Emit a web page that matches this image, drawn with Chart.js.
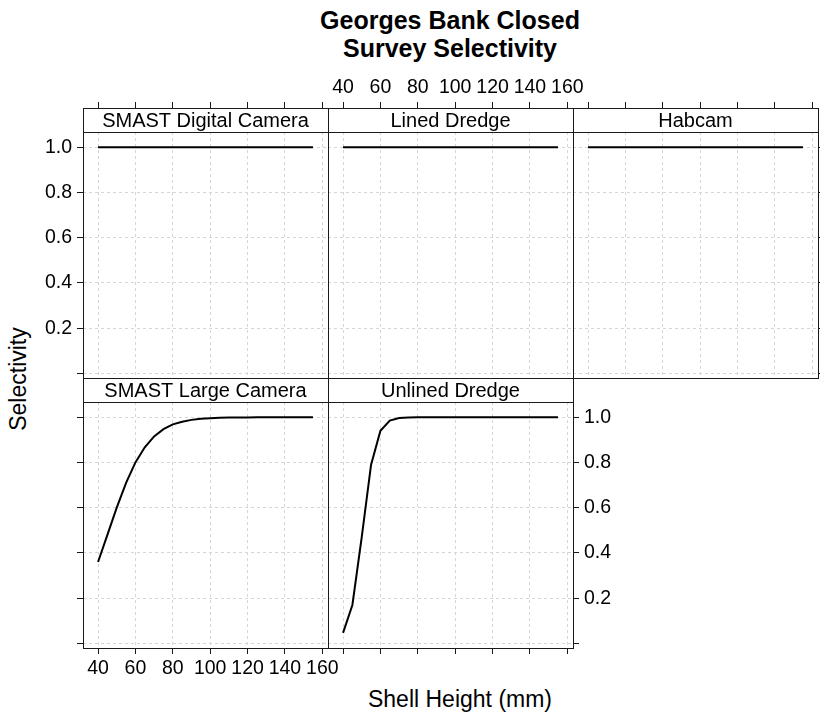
<!DOCTYPE html>
<html>
<head>
<meta charset="utf-8">
<script src="https://cdn.jsdelivr.net/npm/chart.js@4.4.1/dist/chart.umd.min.js"></script>
<style>
  body { margin: 0; background: #fff; }
  #page { position: relative; width: 820px; height: 717px; overflow: hidden; font-family: 'Liberation Sans', Arial, sans-serif; color: #000; }
  #page canvas { position: absolute; }
  .main-title { position: absolute; left: 0; width: 900px; top: 6px; text-align: center; font-weight: bold; font-size: 25px; line-height: 28px; }
  .xlab { position: absolute; left: 100px; width: 720px; top: 686px; text-align: center; font-size: 23px; }
  .ylab { position: absolute; left: 18px; top: 379px; font-size: 23px; transform: translate(-50%, -50%) rotate(-90deg); white-space: nowrap; }
</style>
</head>
<body>
<div id="page">
  <div class="main-title">Georges Bank Closed<br>Survey Selectivity</div>
  <div class="ylab">Selectivity</div>
  <div class="xlab">Shell Height (mm)</div>
</div>
<script>
// shell heights (mm) where selectivity was evaluated
const shellHeight = [40, 45, 50, 55, 60, 65, 70, 75, 80, 85, 90, 95, 100, 105, 110, 115, 120, 125, 130, 135, 140, 145, 150, 155];

const smastDigitalCamera = [1, 1, 1, 1, 1, 1, 1, 1, 1, 1, 1, 1, 1, 1, 1, 1, 1, 1, 1, 1, 1, 1, 1, 1];
const linedDredge        = [1, 1, 1, 1, 1, 1, 1, 1, 1, 1, 1, 1, 1, 1, 1, 1, 1, 1, 1, 1, 1, 1, 1, 1];
const habcam             = [1, 1, 1, 1, 1, 1, 1, 1, 1, 1, 1, 1, 1, 1, 1, 1, 1, 1, 1, 1, 1, 1, 1, 1];
const smastLargeCamera   = [0.36, 0.48, 0.60, 0.71, 0.80, 0.867, 0.915, 0.947, 0.968, 0.98, 0.988, 0.993, 0.995, 0.997, 0.998, 0.999, 0.999, 1, 1, 1, 1, 1, 1, 1];
const unlinedDredge      = [0.047, 0.17, 0.47, 0.79, 0.94, 0.985, 0.996, 0.999, 1, 1, 1, 1, 1, 1, 1, 1, 1, 1, 1, 1, 1, 1, 1, 1];

const panelNames = ['SMAST Digital Camera', 'Lined Dredge', 'Habcam', 'SMAST Large Camera', 'Unlined Dredge'];
const panelSeries = [smastDigitalCamera, linedDredge, habcam, smastLargeCamera, unlinedDredge];

const xTicks = [40, 60, 80, 100, 120, 140, 160];
const yTicks = [0, 0.2, 0.4, 0.6, 0.8, 1.0];
const xRange = [31.95, 163.05];
const yRange = [-0.02, 1.067];

// lattice layout: which sides of each panel get ticks / labels
const panelAxes = [
  { col: 0, row: 0, left: 'labels', right: null, top: 'ticks', bottom: null },
  { col: 1, row: 0, left: null, right: null, top: 'labels', bottom: null },
  { col: 2, row: 0, left: null, right: 'ticks', top: 'ticks', bottom: null },
  { col: 0, row: 1, left: 'ticks', right: null, top: null, bottom: 'labels' },
  { col: 1, row: 1, left: null, right: 'labels', top: null, bottom: 'ticks' },
];

const COL_LEFT = [83, 328, 573];
const ROW_TOP = [132, 402];
const PW = 245, PH = 246, STRIP = 24;
const LW = 60, RW = 60, TH = 40, BH = 45;
const FRAME = '#1a1a1a';
const GRID = '#d6d6d6';

Chart.defaults.font.family = "'Liberation Sans', Arial, sans-serif";
Chart.defaults.color = '#000';

// draws the strip box and the panel frame
const latticeFrame = {
  id: 'latticeFrame',
  afterDraw(chart) {
    const { ctx, chartArea: a } = chart;
    ctx.save();
    ctx.strokeStyle = FRAME;
    ctx.lineWidth = 1;
    ctx.strokeRect(a.left + 0.5, a.top - STRIP + 0.5, a.right - a.left, STRIP);
    ctx.strokeRect(a.left + 0.5, a.top + 0.5, a.right - a.left, a.bottom - a.top);
    ctx.restore();
  }
};

function axis(position, show, range, ticks, fmt, size, onArea) {
  const horizontal = position === 'top' || position === 'bottom';
  return {
    type: 'linear',
    position,
    min: range[0],
    max: range[1],
    weight: position === 'top' ? 10 : 0,
    afterBuildTicks: s => { s.ticks = ticks.map(v => ({ value: v })); },
    afterFit: s => { if (horizontal) s.height = size; else s.width = size; },
    grid: {
      display: true,
      drawOnChartArea: onArea,
      drawTicks: !!show,
      tickLength: 6,
      tickColor: FRAME,
      color: GRID,
      lineWidth: 1
    },
    border: { display: false, dash: [3, 3] },
    ticks: {
      display: show === 'labels',
      autoSkip: false,
      maxRotation: 0,
      padding: horizontal ? 3 : 5,
      font: { size: 19.5 },
      color: '#000',
      callback: fmt
    }
  };
}

const page = document.getElementById('page');

panelAxes.forEach((p, i) => {
  const canvas = document.createElement('canvas');
  const w = LW + PW + RW;
  const h = TH + STRIP + PH + BH;
  canvas.width = w;
  canvas.height = h;
  canvas.style.width = w + 'px';
  canvas.style.height = h + 'px';
  canvas.style.left = (COL_LEFT[p.col] - LW) + 'px';
  canvas.style.top = (ROW_TOP[p.row] - STRIP - TH) + 'px';
  page.appendChild(canvas);

  const xfmt = v => String(v);
  const yfmt = v => (v === 0 ? '' : v.toFixed(1));

  new Chart(canvas.getContext('2d'), {
    type: 'line',
    data: {
      datasets: [{
        data: shellHeight.map((x, k) => ({ x, y: panelSeries[i][k] })),
        borderColor: '#000',
        borderWidth: 2,
        pointRadius: 0,
        tension: 0,
        fill: false
      }]
    },
    options: {
      responsive: false,
      animation: false,
      devicePixelRatio: 1,
      layout: { padding: 0 },
      scales: {
        x: axis('bottom', p.bottom, xRange, xTicks, xfmt, BH, true),
        x2: axis('top', p.top, xRange, xTicks, xfmt, TH, false),
        y: axis('left', p.left, yRange, yTicks, yfmt, LW, true),
        y2: axis('right', p.right, yRange, yTicks, yfmt, RW, false)
      },
      plugins: {
        legend: { display: false },
        tooltip: { enabled: false },
        title: {
          display: true,
          text: panelNames[i],
          position: 'top',
          fullSize: false,
          weight: -1,
          align: 'center',
          color: '#000',
          font: { size: 20, weight: 'normal', lineHeight: '20px' },
          padding: { top: 3, bottom: 1 }
        }
      }
    },
    plugins: [latticeFrame]
  });
});
</script>
</body>
</html>
